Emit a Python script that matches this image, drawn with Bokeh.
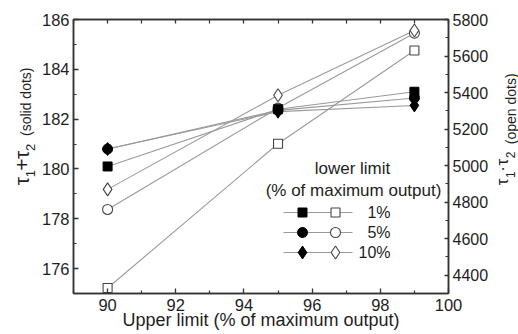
from math import pi

from bokeh.plotting import figure
from bokeh.layouts import row
from bokeh.models import Range1d, LinearAxis, FixedTicker, Label, CustomJSTickFormatter
from bokeh.core.properties import value
from bokeh.embed import file_html
from bokeh.resources import INLINE

# ---------------- data ----------------
upper_limit = [90, 95, 99]                      # Upper limit (% of maximum output)
lower_limit_labels = ["1%", "5%", "10%"]        # lower limit (% of maximum output)

# tau1 + tau2 (solid dots, left axis)
sum_1pct = [180.1, 182.4, 183.1]
sum_5pct = [180.8, 182.35, 182.85]
sum_10pct = [180.8, 182.3, 182.55]

# tau1 * tau2 (open dots, right axis)
prod_1pct = [4330, 5120, 5630]
prod_5pct = [4760, 5315, 5725]
prod_10pct = [4870, 5385, 5740]

x_ticks = [90, 92, 94, 96, 98, 100]
x_minor = [89, 91, 93, 95, 97, 99]
left_ticks = [176, 178, 180, 182, 184, 186]
left_minor = [175, 177, 179, 181, 183, 185]
right_ticks = [4400, 4600, 4800, 5000, 5200, 5400, 5600, 5800]
right_minor = [4300, 4500, 4700, 4900, 5100, 5300, 5500, 5700]

x_title = "Upper limit (% of maximum output)"
legend_title = ["lower limit", "(% of maximum output)"]

X_RANGE = (89, 100)
LEFT_RANGE = (175, 186)
RIGHT_RANGE = (4300, 5800)

# ---------------- layout (pixels in the page) ----------------
FONT = "Liberation Sans"
TXT = "#1e1e1e"
AX = "#333333"
LINE = "#9a9a9a"
OPEN_EDGE = "#444444"

FR_L, FR_T, FR_R, FR_B = 73, 19, 448, 293   # frame edges in page pixels
W, H = 518, 334
LW, RW = 37, 25                               # side strips holding the vertical titles
MW = W - LW - RW


def X(px):
    return X_RANGE[0] + (px - FR_L) * (X_RANGE[1] - X_RANGE[0]) / (FR_R - FR_L)


def Y(py):
    return LEFT_RANGE[1] - (py - FR_T) * (LEFT_RANGE[1] - LEFT_RANGE[0]) / (FR_B - FR_T)


p = figure(width=MW, height=H, x_range=Range1d(*X_RANGE), y_range=Range1d(*LEFT_RANGE),
           output_backend="svg", toolbar_location=None,
           min_border_left=FR_L - LW, min_border_right=LW + MW - FR_R,
           min_border_top=FR_T, min_border_bottom=H - FR_B)
p.extra_y_ranges = {"prod": Range1d(*RIGHT_RANGE)}
p.grid.visible = False
p.outline_line_color = AX
p.outline_line_width = 1.5
p.background_fill_color = "white"
p.border_fill_color = "white"


def style_axis(ax, tick_in=5, minor_in=3, size="16.5px", standoff=5):
    ax.axis_line_color = AX
    ax.axis_line_width = 1.5
    ax.major_tick_in = tick_in
    ax.major_tick_out = 0
    ax.minor_tick_in = minor_in
    ax.minor_tick_out = 0
    ax.major_tick_line_color = AX
    ax.minor_tick_line_color = AX
    ax.major_tick_line_width = 1.3
    ax.minor_tick_line_width = 1.2
    ax.major_label_text_font = FONT
    ax.major_label_text_font_size = size
    ax.major_label_text_color = TXT
    ax.major_label_standoff = standoff


xa = p.xaxis[0]
xa.ticker = FixedTicker(ticks=x_ticks, minor_ticks=x_minor)
style_axis(xa)
xa.axis_label = x_title
xa.axis_label_text_font = FONT
xa.axis_label_text_font_size = "18px"
xa.axis_label_text_font_style = "normal"
xa.axis_label_text_color = TXT
xa.axis_label_standoff = -4

ya = p.yaxis[0]
ya.ticker = FixedTicker(ticks=left_ticks, minor_ticks=left_minor)
style_axis(ya, standoff=4)

ra = LinearAxis(y_range_name="prod", ticker=FixedTicker(ticks=right_ticks, minor_ticks=right_minor))
style_axis(ra, tick_in=4, minor_in=3, size="16px", standoff=4)
p.add_layout(ra, "right")

ta = LinearAxis(ticker=FixedTicker(ticks=x_ticks, minor_ticks=x_minor),
                formatter=CustomJSTickFormatter(code="return ''"))
style_axis(ta, tick_in=4, minor_in=4)
ta.major_label_text_font_size = "0px"
ta.major_label_standoff = 0
p.add_layout(ta, "above")

# ---------------- series ----------------
sums = [sum_1pct, sum_5pct, sum_10pct]
prods = [prod_1pct, prod_5pct, prod_10pct]
markers = ["square", "circle", "diamond"]
sizes = [9, 10, 13]

for s in sums:
    p.line(upper_limit, s, line_color=LINE, line_width=1.1)
for pr in prods:
    p.line(upper_limit, pr, line_color=LINE, line_width=1.1, y_range_name="prod")
for pr, m, sz in zip(prods, markers, sizes):
    p.scatter(upper_limit, pr, marker=m, size=sz, fill_color="white",
              line_color=OPEN_EDGE, line_width=1.1, y_range_name="prod")
for s, m, sz in zip(sums, markers, sizes):
    p.scatter(upper_limit, s, marker=m, size=sz, fill_color="black", line_color="black")

# ---------------- legend (drawn by hand) ----------------
LEG_ROWS = [212, 232, 252]
LEG_LINE = (283, 352)
LEG_SOLID, LEG_OPEN, LEG_TEXT_R = 302, 335, 390

for rw, m, sz, lab in zip(LEG_ROWS, markers, sizes, lower_limit_labels):
    yy = Y(rw)
    p.line([X(LEG_LINE[0]), X(LEG_LINE[1])], [yy, yy], line_color=LINE, line_width=1.1)
    p.scatter([X(LEG_OPEN)], [yy], marker=m, size=sz, fill_color="white",
              line_color=OPEN_EDGE, line_width=1.1)
    p.scatter([X(LEG_SOLID)], [yy], marker=m, size=sz, fill_color="black", line_color="black")
    p.add_layout(Label(x=X(LEG_TEXT_R), y=yy, text=lab, text_font=FONT, text_font_size="16px",
                       text_color=TXT, text_align="right", text_baseline="middle"))

p.add_layout(Label(x=X(352), y=Y(168), text=legend_title[0], text_font=FONT, text_font_size="17px",
                   text_color=TXT, text_align="center", text_baseline="middle"))
p.add_layout(Label(x=X(353), y=Y(190), text=legend_title[1], text_font=FONT,
                   text_font_size="17px", text_color=TXT, text_align="center", text_baseline="middle"))


# ---------------- side strips with the vertical axis titles ----------------
def strip(width):
    s = figure(width=width, height=H, x_range=Range1d(0, width), y_range=Range1d(H, 0),
               output_backend="svg", toolbar_location=None, x_axis_type=None, y_axis_type=None,
               min_border=0)
    s.outline_line_color = None
    s.background_fill_color = "white"
    s.border_fill_color = "white"
    return s


left_strip = strip(LW)
right_strip = strip(RW)


def vtext(fig, x0, px, py, text, size, align="center"):
    fig.text(x=[px - x0], y=[py], text=[text], angle=pi / 2,
             text_font=value(FONT), text_font_size=value(size), text_color=TXT,
             text_align=align, text_baseline="alphabetic")


LX0 = 0
RX0 = LW + MW

# left: tau1 + tau2 (solid dots)
vtext(left_strip, LX0, 21, 197, "τ", "21px")
vtext(left_strip, LX0, 30, 188, "1", "13px")
vtext(left_strip, LX0, 21, 177, "+", "21px")
vtext(left_strip, LX0, 21, 165, "τ", "21px")
vtext(left_strip, LX0, 30, 156, "2", "13px")
vtext(left_strip, LX0, 25, 142, "(solid dots)", "14px", align="left")

# right: tau1 . tau2 (open dots)
vtext(right_strip, RX0, 502, 198, "τ", "17px")
vtext(right_strip, RX0, 510, 189, "1", "12px")
vtext(right_strip, RX0, 502, 182, "·", "17px")
vtext(right_strip, RX0, 502, 174, "τ", "17px")
vtext(right_strip, RX0, 510, 165, "2", "12px")
vtext(right_strip, RX0, 510, 152, "(open dots)", "14px", align="left")

layout = row(left_strip, p, right_strip, spacing=0)

open("out.html", "w").write(file_html(layout, INLINE))
